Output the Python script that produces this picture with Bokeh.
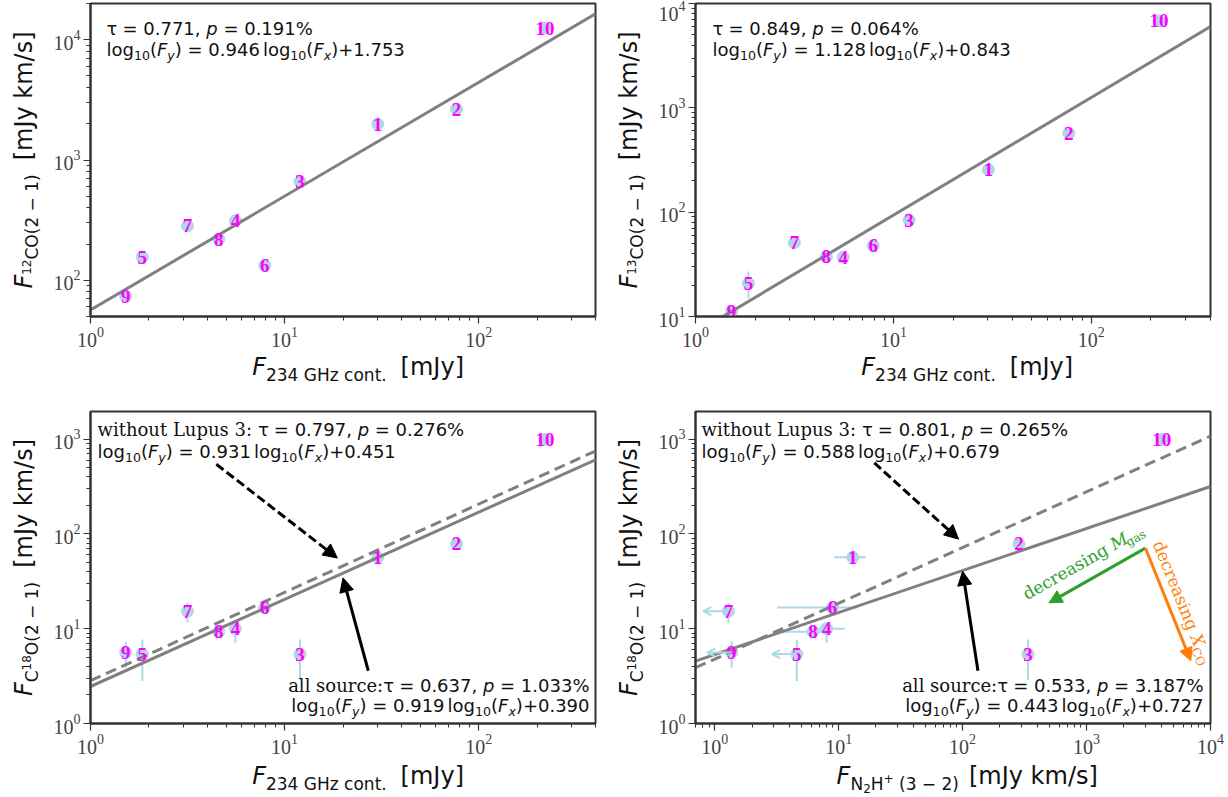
import math
from bokeh.plotting import figure
from bokeh.layouts import column, row
from bokeh.models import Label, Arrow, NormalHead, OpenHead, FixedTicker, LogTickFormatter
from bokeh.core.properties import value
from bokeh.embed import file_html
from bokeh.resources import INLINE

# ---------------- data ----------------
src_id = ["1", "2", "3", "4", "5", "6", "7", "8", "9", "10"]
f_cont = [30.2, 76.9, 12.0, 5.58, 1.85, 7.9, 3.16, 4.58, 1.52, 220.0]       # mJy
f_12co = [1990, 2650, 661, 312, 156, 133, 283, 220, 73.6, 12500]          # mJy km/s
f_13co = [255, 572, 84, 37, 20.8, 47.6, 51, 37.3, 11.2, 6800]
f_13co_lo = [245, 555, 80, 33, 15, 45, 48, 35.5, 9.8, 6600]
f_13co_hi = [265, 590, 88, 41, 27, 50, 54, 39, 12.8, 7000]
f_c18o = [56.5, 78.5, 5.4, 10.0, 5.4, 16.7, 15.3, 9.3, 5.6, 990]
f_c18o_lo = [52, 74, 2.9, 7.1, 2.8, 14.2, 11.6, 8.0, 3.9, 960]
f_c18o_hi = [61, 83, 7.7, 11.6, 7.7, 18.7, 18.7, 10.5, 7.3, 1020]
f_n2h = [13.0, 285, 337, 8.0, 4.6, 8.9, 1.29, 6.2, 1.37, 4040]
f_n2h_lo = [9.2, 275, 325, 6.3, 4.6, 3.2, 1.29, 3.3, 1.37, 3950]
f_n2h_hi = [16.6, 295, 350, 11.2, 4.6, 14.3, 1.29, 8.5, 1.37, 4150]
ul_index = [4, 6, 8]            # N2H+ upper limits (sources 5, 7, 9)
ul_end = [2.9, 0.81, 0.87]

fit_12co = (0.946, 1.753, 0.771, 0.191)
fit_13co = (1.128, 0.843, 0.849, 0.064)
fit_c18o_all = (0.919, 0.390, 0.637, 1.033)
fit_c18o_nol3 = (0.931, 0.451, 0.797, 0.276)
fit_n2h_all = (0.443, 0.727, 0.533, 3.187)
fit_n2h_nol3 = (0.588, 0.679, 0.801, 0.265)

# ---------------- text helpers ----------------
SANS = {' ': 651, '.': 651, ',': 651, '%': 1946, '(': 799, ')': 799, '[': 799, ']': 799,
        '=': 1716, '+': 1716, '−': 1716, '-': 739, '/': 690, ':': 690,
        'a': 1255, 'c': 1126, 'e': 1260, 'g': 1300, 'k': 1186, 'l': 569, 'm': 1995, 'n': 1298,
        'o': 1253, 'p': 1300, 's': 1067, 't': 803, 'x': 1212, 'y': 1212, 'z': 1075,
        'C': 1430, 'F': 1178, 'G': 1577, 'H': 1540, 'J': 604, 'N': 1532, 'O': 1612, 'τ': 1165}
SERIF = {' ': 651, '.': 651, ',': 651, ':': 690, 'a': 1221, 'c': 1130, 'd': 1314, 'e': 1216,
         'g': 1314, 'h': 1314, 'i': 657, 'l': 657, 'n': 1314, 'o': 1233, 'p': 1314, 'r': 979,
         's': 1065, 't': 821, 'u': 1314, 'w': 1735, 'L': 1401, 'M': 1765, 'X': 1493,
         'C': 1430, 'O': 1612}
for d in "0123456789":
    SANS[d] = 1303
    SERIF[d] = 1303
FONT = {"sans": "DejaVu Sans", "serif": "DejaVu Serif"}
MID = 0.34      # distance (in em) from the alphabetic baseline up to the text's vertical middle


def seg(t, size=18, style="normal", dy=0.0, fam="sans", w=None, color=None):
    return dict(t=t, size=size, style=style, dy=dy, fam=fam, w=w, color=color)


def twidth(t, fam, size):
    tbl = SANS if fam == "sans" else SERIF
    return sum(tbl.get(ch, 1200) for ch in t) / 2048.0 * size


def swidth(s):
    return s["w"] if s["w"] is not None else twidth(s["t"], s["fam"], s["size"])


def rich(p, x, y, segs, units="screen", angle=0.0, align="left", color="#111111"):
    total = sum(swidth(s) for s in segs)
    a = {"left": 0.0, "center": -total / 2.0, "right": -total}[align]
    c, sn = math.cos(angle), math.sin(angle)
    for s in segs:
        t = s["t"]
        body = t.strip(" ")
        if body and s["w"] is None:
            lead = len(t) - len(t.lstrip(" "))
            a0 = a + twidth(t[:lead], s["fam"], s["size"])
            up = s["dy"] + MID * s["size"]
            ox = a0 * c - up * sn
            oy = a0 * sn + up * c
            p.add_layout(Label(x=x, y=y, x_units=units, y_units=units, x_offset=ox, y_offset=oy,
                               text=body, angle=angle, text_font=FONT[s["fam"]],
                               text_font_size=f"{s['size']}px", text_font_style=s["style"],
                               text_color=s["color"] or color, text_align="left",
                               text_baseline="middle"))
        a += swidth(s)


SUB = 12.6


def fit_line_segs(slope, icpt):
    return [seg("log"), seg("10", SUB, dy=-4), seg("("), seg("F", style="italic"),
            seg("y", SUB, "italic", dy=-4), seg(f") = {slope:.3f}"), seg("", w=3),
            seg("log"), seg("10", SUB, dy=-4), seg("("), seg("F", style="italic"),
            seg("x", SUB, "italic", dy=-4), seg(f")+{icpt:.3f}")]


def stat_segs(tau, pval, prefix=None):
    out = []
    if prefix:
        out.append(seg(prefix + " ", fam="serif"))
    out += [seg("τ"), seg(f" = {tau:.3f}, "), seg("p", style="italic"), seg(f" = {pval:.3f}%")]
    return out


MAIN = 24
SB = 17
SS = 12


def xlabel_cont():
    return [seg("F", MAIN, "italic"), seg("234 GHz cont.", SB, dy=-5), seg("", w=14), seg("[mJy]", MAIN)]


def xlabel_n2h():
    return [seg("F", MAIN, "italic"), seg("N", SB, dy=-5), seg("2", SS, dy=-8), seg("H", SB, dy=-5),
            seg("+", SS, dy=2), seg(" (3 − 2)", SB, dy=-5), seg("", w=10), seg("[mJy km/s]", MAIN)]


def ylabel_co(iso):
    return [seg("F", MAIN, "italic"), seg(iso, SS, dy=2), seg("CO(2 − 1)", SB, dy=-5), seg("", w=14),
            seg("[mJy km/s]", MAIN)]


def ylabel_c18o():
    return [seg("F", MAIN, "italic"), seg("C", SB, dy=-5), seg("18", SS, dy=2), seg("O(2 − 1)", SB, dy=-5),
            seg("", w=14), seg("[mJy km/s]", MAIN)]


# ---------------- figure helpers ----------------
def minor_list(lo_exp, hi_exp):
    return [m * 10.0 ** k for k in range(lo_exp, hi_exp) for m in range(2, 10)]


def make_fig(w, h, xr, yr, bl, br, bt, bb, xt, yt):
    p = figure(width=w, height=h, x_axis_type="log", y_axis_type="log", x_range=xr, y_range=yr,
               output_backend="svg", toolbar_location=None,
               min_border_left=bl, min_border_right=br, min_border_top=bt, min_border_bottom=bb)
    p.xgrid.visible = False
    p.ygrid.visible = False
    p.outline_line_color = "#333333"
    p.outline_line_width = 2
    p.background_fill_color = "white"
    p.border_fill_color = "white"
    p.xaxis.ticker = FixedTicker(ticks=[10.0 ** k for k in xt], minor_ticks=minor_list(xt[0] - 1, xt[-1] + 1))
    p.yaxis.ticker = FixedTicker(ticks=[10.0 ** k for k in yt], minor_ticks=minor_list(yt[0] - 1, yt[-1] + 1))
    for ax in (p.xaxis[0], p.yaxis[0]):
        ax.formatter = LogTickFormatter()
        ax.axis_line_color = "#333333"
        ax.axis_line_width = 2
        ax.major_tick_line_color = "#333333"
        ax.minor_tick_line_color = "#333333"
        ax.major_tick_line_width = 1.2
        ax.minor_tick_line_width = 1
        ax.major_tick_out = 7
        ax.major_tick_in = 0
        ax.minor_tick_out = 4
        ax.minor_tick_in = 0
        ax.major_label_text_font = "Liberation Serif"
        ax.major_label_text_font_size = "20px"
        ax.major_label_text_color = "#444444"
        ax.major_label_standoff = 3
    return p


def label_fig(w, h):
    f = figure(width=w, height=h, x_range=(0, w), y_range=(0, h), output_backend="svg",
               toolbar_location=None, min_border=0, x_axis_location=None, y_axis_location=None)
    f.xgrid.visible = False
    f.ygrid.visible = False
    f.outline_line_color = None
    f.background_fill_color = "white"
    f.border_fill_color = "white"
    return f


def draw_points(p, xs, ys):
    p.scatter(xs, ys, size=12, color="#add8e6", line_color="#add8e6")


def draw_ids(p, xs, ys):
    p.text(xs, ys, text=src_id, text_font=value("Liberation Serif"), text_font_style="bold",
           text_font_size="19px", text_color="#ff00ff", text_align="center", text_baseline="middle")


def fit_xy(fit, xr):
    slope, icpt = fit[0], fit[1]
    xs = list(xr)
    return xs, [10 ** (slope * math.log10(v) + icpt) for v in xs]


# layout sizes (pixels)
YL_L, YL_R = 41, 37                 # y-label strips
ML_W, MR_W = 569, 579               # main figures
ML_BL, ML_BR = 49, 15
MR_BL, MR_BR = 48, 16
FWL, FWR = 505, 515
TOP_H, BOT_H = 390, 406
BB = 37
MT_H, MB_H = 3 + 313 + BB, 21 + 312 + BB
XT_H, XB_H = TOP_H - MT_H, BOT_H - MB_H
FHT, FHB = 313, 312

# ---- panel 1: 12CO vs continuum ----
p1 = make_fig(ML_W, MT_H, (1, 400), (50, 2e4), ML_BL, ML_BR, 3, BB, [0, 1, 2], [2, 3, 4])
draw_points(p1, f_cont, f_12co)
xs, ys = fit_xy(fit_12co, (1, 400))
p1.line(xs, ys, line_color="#808080", line_width=3)
draw_ids(p1, f_cont, f_12co)
rich(p1, 16, FHT - 31, stat_segs(fit_12co[2], fit_12co[3]))
rich(p1, 16, FHT - 52, fit_line_segs(fit_12co[0], fit_12co[1]))

# ---- panel 2: 13CO vs continuum ----
p2 = make_fig(MR_W, MT_H, (1, 400), (10, 1e4), MR_BL, MR_BR, 3, BB, [0, 1, 2], [1, 2, 3, 4])
p2.segment(f_cont, f_13co_lo, f_cont, f_13co_hi, line_color="#add8e6", line_width=2)
draw_points(p2, f_cont, f_13co)
xs, ys = fit_xy(fit_13co, (1, 400))
p2.line(xs, ys, line_color="#808080", line_width=3)
draw_ids(p2, f_cont, f_13co)
rich(p2, 17, FHT - 31, stat_segs(fit_13co[2], fit_13co[3]))
rich(p2, 17, FHT - 52, fit_line_segs(fit_13co[0], fit_13co[1]))

# ---- panel 3: C18O vs continuum ----
p3 = make_fig(ML_W, MB_H, (1, 400), (1, 1950), ML_BL, ML_BR, 21, BB, [0, 1, 2], [0, 1, 2, 3])
p3.segment(f_cont, f_c18o_lo, f_cont, f_c18o_hi, line_color="#add8e6", line_width=2)
draw_points(p3, f_cont, f_c18o)
xs, ys = fit_xy(fit_c18o_all, (1, 400))
p3.line(xs, ys, line_color="#808080", line_width=3)
xs, ys = fit_xy(fit_c18o_nol3, (1, 400))
p3.line(xs, ys, line_color="#808080", line_width=3, line_dash="11 6")
draw_ids(p3, f_cont, f_c18o)
p3.add_layout(Arrow(x_start=4.45, y_start=542, x_end=18.7, y_end=55.6, line_color="black", line_width=3,
                    line_dash="9 4", end=NormalHead(size=14, fill_color="black", line_color="black")))
p3.add_layout(Arrow(x_start=27, y_start=3.6, x_end=20, y_end=34.3, line_color="black", line_width=3,
                    end=NormalHead(size=14, fill_color="black", line_color="black")))
rich(p3, 7, FHB - 24, stat_segs(fit_c18o_nol3[2], fit_c18o_nol3[3], "without Lupus 3:"))
rich(p3, 7, FHB - 46, fit_line_segs(fit_c18o_nol3[0], fit_c18o_nol3[1]))
rich(p3, FWL - 6, 32, [seg("all source:", fam="serif")] + stat_segs(fit_c18o_all[2], fit_c18o_all[3]), align="right")
rich(p3, FWL - 6, 12, fit_line_segs(fit_c18o_all[0], fit_c18o_all[1]), align="right")

# ---- panel 4: C18O vs N2H+ ----
p4 = make_fig(MR_W, MB_H, (0.7, 1e4), (1, 1950), MR_BL, MR_BR, 21, BB, [0, 1, 2, 3, 4], [0, 1, 2, 3])
p4.segment(f_n2h, f_c18o_lo, f_n2h, f_c18o_hi, line_color="#add8e6", line_width=2)
p4.segment(f_n2h_lo, f_c18o, f_n2h_hi, f_c18o, line_color="#add8e6", line_width=2)
for i, xe in zip(ul_index, ul_end):
    p4.add_layout(Arrow(x_start=f_n2h[i], y_start=f_c18o[i], x_end=xe, y_end=f_c18o[i], line_color="#add8e6",
                        line_width=2, end=OpenHead(size=8, line_color="#add8e6", line_width=2)))
draw_points(p4, f_n2h, f_c18o)
xs, ys = fit_xy(fit_n2h_all, (0.7, 1e4))
p4.line(xs, ys, line_color="#808080", line_width=3)
xs, ys = fit_xy(fit_n2h_nol3, (0.7, 1e4))
p4.line(xs, ys, line_color="#808080", line_width=3, line_dash="11 6")
draw_ids(p4, f_n2h, f_c18o)
p4.add_layout(Arrow(x_start=19.4, y_start=560, x_end=92.8, y_end=88, line_color="black", line_width=3,
                    line_dash="9 4", end=NormalHead(size=14, fill_color="black", line_color="black")))
p4.add_layout(Arrow(x_start=133, y_start=3.6, x_end=100, y_end=40.3, line_color="black", line_width=3,
                    end=NormalHead(size=14, fill_color="black", line_color="black")))
p4.add_layout(Arrow(x_start=2985, y_start=70.7, x_end=497, y_end=18.7, line_color="#2ca02c", line_width=3,
                    end=NormalHead(size=13, fill_color="#2ca02c", line_color="#2ca02c")))
p4.add_layout(Arrow(x_start=2985, y_start=70.7, x_end=6935, y_end=4.58, line_color="#ff7f0e", line_width=3,
                    end=NormalHead(size=13, fill_color="#ff7f0e", line_color="#ff7f0e")))
rich(p4, 330, 20, [seg("decreasing ", 17, fam="serif"), seg("M", 17, "italic", fam="serif"),
                   seg("gas", 12, dy=-4, fam="serif")], units="data", angle=math.radians(29.6), color="#2ca02c")
rich(p4, 3420, 79, [seg("decreasing ", 17, fam="serif"), seg("X", 17, "italic", fam="serif"),
                    seg("CO", 12, dy=-4, fam="serif")], units="data", angle=math.radians(-68.1), color="#ff7f0e")
rich(p4, 6, FHB - 24, stat_segs(fit_n2h_nol3[2], fit_n2h_nol3[3], "without Lupus 3:"))
rich(p4, 6, FHB - 46, fit_line_segs(fit_n2h_nol3[0], fit_n2h_nol3[1]))
rich(p4, FWR - 7, 32, [seg("all source:", fam="serif")] + stat_segs(fit_n2h_all[2], fit_n2h_all[3]), align="right")
rich(p4, FWR - 7, 12, fit_line_segs(fit_n2h_all[0], fit_n2h_all[1]), align="right")

# ---- axis-title strips ----
yl1 = label_fig(YL_L, TOP_H)
rich(yl1, 32, TOP_H - 159.5, ylabel_co("12"), units="data", angle=math.pi / 2, align="center")
yl2 = label_fig(YL_R, TOP_H)
rich(yl2, 27, TOP_H - 159.5, ylabel_co("13"), units="data", angle=math.pi / 2, align="center")
yl3 = label_fig(YL_L, BOT_H)
rich(yl3, 32, BOT_H - 177, ylabel_c18o(), units="data", angle=math.pi / 2, align="center")
yl4 = label_fig(YL_R, BOT_H)
rich(yl4, 27, BOT_H - 177, ylabel_c18o(), units="data", angle=math.pi / 2, align="center")

xl1 = label_fig(ML_W, XT_H)
rich(xl1, ML_BL + FWL / 2, XT_H - 22, xlabel_cont(), units="data", align="center")
xl2 = label_fig(MR_W, XT_H)
rich(xl2, MR_BL + FWR / 2, XT_H - 22, xlabel_cont(), units="data", align="center")
xl3 = label_fig(ML_W, XB_H)
rich(xl3, ML_BL + FWL / 2, XB_H - 24, xlabel_cont(), units="data", align="center")
xl4 = label_fig(MR_W, XB_H)
rich(xl4, MR_BL + FWR / 2, XB_H - 24, xlabel_n2h(), units="data", align="center")

layout = column(
    row(yl1, column(p1, xl1), yl2, column(p2, xl2)),
    row(yl3, column(p3, xl3), yl4, column(p4, xl4)),
)
open("out.html", "w").write(file_html(layout, INLINE))
